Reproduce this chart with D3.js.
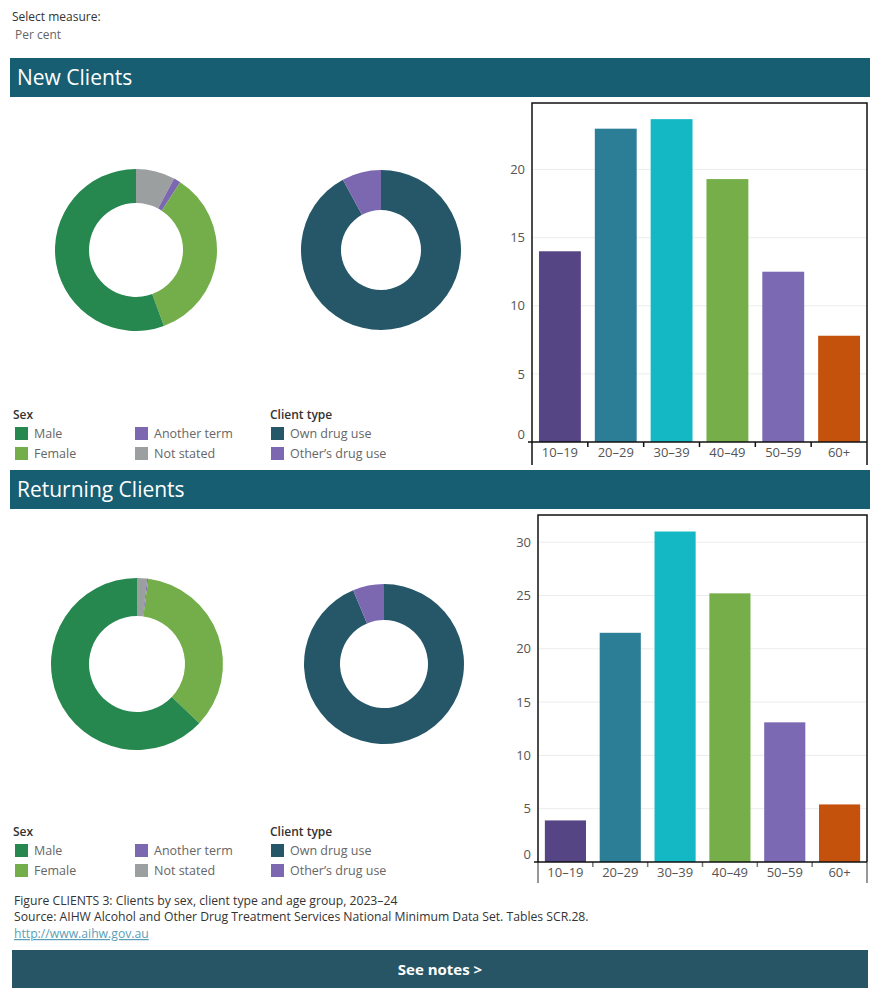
<!DOCTYPE html>
<html>
<head>
<meta charset="utf-8">
<script src="https://cdn.jsdelivr.net/npm/d3@7"></script>
<style>
body { margin: 0; background: #fff; }
svg { display: block; font-family: "Open Sans", sans-serif; }
</style>
</head>
<body>
<div id="chart"></div>
<script>
// values (per cent)
var ageGroups = ["10–19", "20–29", "30–39", "40–49", "50–59", "60+"];
var newAge = [14.0, 23.0, 23.7, 19.3, 12.5, 7.8];
var retAge = [3.9, 21.5, 31.0, 25.2, 13.1, 5.4];

var sexCats = ["Not stated", "Another term", "Female", "Male"];
var newSex = [7.8, 1.4, 35.2, 55.6];
var retSex = [1.9, 0.2, 35.0, 62.9];

var typeCats = ["Own drug use", "Other’s drug use"];
var newType = [92.1, 7.9];
var retType = [93.7, 6.3];

var ageColors = ["#564584", "#2c7e96", "#14b8c4", "#76ae4a", "#7b69b3", "#c4510c"];
var sexColor = d3.scaleOrdinal()
    .domain(["Male", "Female", "Another term", "Not stated"])
    .range(["#26874f", "#74ae4a", "#7b68b0", "#9c9fa0"]);
var typeColor = d3.scaleOrdinal()
    .domain(typeCats)
    .range(["#265768", "#7b68b0"]);

var svg = d3.select("#chart").append("svg")
    .attr("width", 880)
    .attr("height", 1000);

svg.append("text").attr("x", 12).attr("y", 21)
    .attr("font-size", 12).attr("fill", "#333").text("Select measure:");
svg.append("text").attr("x", 15).attr("y", 39)
    .attr("font-size", 12).attr("fill", "#666").text("Per cent");

function header(y, label) {
    svg.append("rect").attr("x", 10).attr("y", y).attr("width", 860).attr("height", 39)
        .attr("fill", "#175e73");
    svg.append("text").attr("x", 17).attr("y", y + 27)
        .attr("font-size", 21).attr("fill", "#fff").text(label);
}

function donut(cx, cy, outer, inner, cats, vals, color) {
    var pie = d3.pie().sort(null).value(function(d) { return d.v; });
    var arc = d3.arc().outerRadius(outer).innerRadius(inner);
    var rows = cats.map(function(c, i) { return {c: c, v: vals[i]}; });
    svg.append("g").attr("transform", "translate(" + cx + "," + cy + ")")
        .selectAll("path")
        .data(pie(rows))
        .enter().append("path")
        .attr("d", arc)
        .attr("fill", function(d) { return color(d.data.c); });
}

function bars(left, top, right, axisY, bottomY, vals, lowerColor) {
    var x = d3.scaleBand().domain(ageGroups).range([left, right])
        .paddingInner(0.25).paddingOuter(0.125);
    var y = d3.scaleLinear().domain([0, d3.max(vals) * 1.05]).range([axisY, top]);
    var g = svg.append("g");

    // gridlines
    g.append("g").selectAll("line")
        .data(y.ticks(6).filter(function(t) { return t > 0; }))
        .enter().append("line")
        .attr("x1", left).attr("x2", right)
        .attr("y1", function(d) { return y(d); }).attr("y2", function(d) { return y(d); })
        .attr("stroke", "#ececec");

    g.selectAll("rect.bar")
        .data(vals)
        .enter().append("rect")
        .attr("class", "bar")
        .attr("x", function(d, i) { return x(ageGroups[i]); })
        .attr("y", function(d) { return y(d); })
        .attr("width", x.bandwidth())
        .attr("height", function(d) { return axisY - y(d); })
        .attr("fill", function(d, i) { return ageColors[i]; });

    // y axis labels (the 0 label sits a little above the axis line)
    var ya = g.append("g").attr("transform", "translate(" + left + ",0)")
        .call(d3.axisLeft(y).ticks(6).tickSize(0).tickPadding(7));
    ya.select(".domain").remove();
    ya.selectAll("text").attr("font-size", 13).attr("fill", "#555")
        .attr("font-family", "Open Sans, sans-serif")
        .attr("dy", function(d) { return d === 0 ? "-0.25em" : "0.32em"; });

    // x axis labels
    var step = x.step();
    var xa = g.append("g").attr("transform", "translate(0," + axisY + ")")
        .call(d3.axisBottom(x).tickSize(0).tickPadding(6));
    xa.select(".domain").remove();
    xa.selectAll("text").attr("font-size", 13).attr("fill", "#555")
        .attr("font-family", "Open Sans, sans-serif");

    // category separators under the axis
    g.selectAll("line.sep")
        .data(ageGroups.slice(1))
        .enter().append("line")
        .attr("class", "sep")
        .attr("x1", function(d) { return x(d) - step * x.paddingInner() / 2; })
        .attr("x2", function(d) { return x(d) - step * x.paddingInner() / 2; })
        .attr("y1", axisY).attr("y2", axisY + 5)
        .attr("stroke", lowerColor).attr("stroke-width", 1.5);

    // frame
    g.append("path")
        .attr("d", "M" + left + "," + axisY + "V" + top + "H" + right + "V" + axisY)
        .attr("fill", "none").attr("stroke", "#111").attr("stroke-width", 1.5);
    g.append("path")
        .attr("d", "M" + left + "," + axisY + "V" + bottomY + "M" + right + "," + axisY + "V" + bottomY)
        .attr("fill", "none").attr("stroke", lowerColor).attr("stroke-width", 1.5);
    g.append("line")
        .attr("x1", left - 4).attr("x2", right)
        .attr("y1", axisY).attr("y2", axisY)
        .attr("stroke", "#111").attr("stroke-width", 1.5);
}

function legend(y) {
    var items = [
        {t: "Male", c: sexColor("Male"), x: 15, r: 0},
        {t: "Female", c: sexColor("Female"), x: 15, r: 1},
        {t: "Another term", c: sexColor("Another term"), x: 135, r: 0},
        {t: "Not stated", c: sexColor("Not stated"), x: 135, r: 1},
        {t: typeCats[0], c: typeColor(typeCats[0]), x: 271, r: 0},
        {t: typeCats[1], c: typeColor(typeCats[1]), x: 271, r: 1}
    ];
    svg.append("text").attr("x", 13).attr("y", y).attr("font-size", 12)
        .attr("font-weight", 600).attr("fill", "#333").text("Sex");
    svg.append("text").attr("x", 270).attr("y", y).attr("font-size", 12)
        .attr("font-weight", 600).attr("fill", "#333").text("Client type");
    var g = svg.append("g").selectAll("g").data(items).enter().append("g");
    g.append("rect")
        .attr("x", function(d) { return d.x; })
        .attr("y", function(d) { return y + 8 + d.r * 20; })
        .attr("width", 13).attr("height", 13)
        .attr("fill", function(d) { return d.c; });
    g.append("text")
        .attr("x", function(d) { return d.x + 19; })
        .attr("y", function(d) { return y + 19 + d.r * 20; })
        .attr("font-size", 12.5).attr("fill", "#666")
        .text(function(d) { return d.t; });
}

header(58, "New Clients");
donut(136, 250, 81, 47, sexCats, newSex, sexColor);
donut(381, 250, 80, 40, typeCats, newType, typeColor);
bars(532, 103, 867, 442, 465, newAge, "#111");
legend(419);

header(470, "Returning Clients");
donut(137, 664, 86, 48, sexCats, retSex, sexColor);
donut(384, 664, 80, 44, typeCats, retType, typeColor);
bars(538, 515, 867, 862, 883, retAge, "#777");
legend(836);

svg.append("text").attr("x", 14).attr("y", 905).attr("font-size", 12.2).attr("fill", "#333")
    .text("Figure CLIENTS 3: Clients by sex, client type and age group, 2023–24");
svg.append("text").attr("x", 14).attr("y", 921).attr("font-size", 12.2).attr("fill", "#333")
    .text("Source: AIHW Alcohol and Other Drug Treatment Services National Minimum Data Set. Tables SCR.28.");
svg.append("text").attr("x", 14).attr("y", 938).attr("font-size", 12.2).attr("fill", "#5a9fb8")
    .attr("text-decoration", "underline").text("http://www.aihw.gov.au");

svg.append("rect").attr("x", 12).attr("y", 950).attr("width", 856).attr("height", 38)
    .attr("fill", "#275565");
svg.append("text").attr("x", 440).attr("y", 975).attr("text-anchor", "middle")
    .attr("font-size", 15).attr("font-weight", 700).attr("fill", "#fff").text("See notes >");
</script>
</body>
</html>
